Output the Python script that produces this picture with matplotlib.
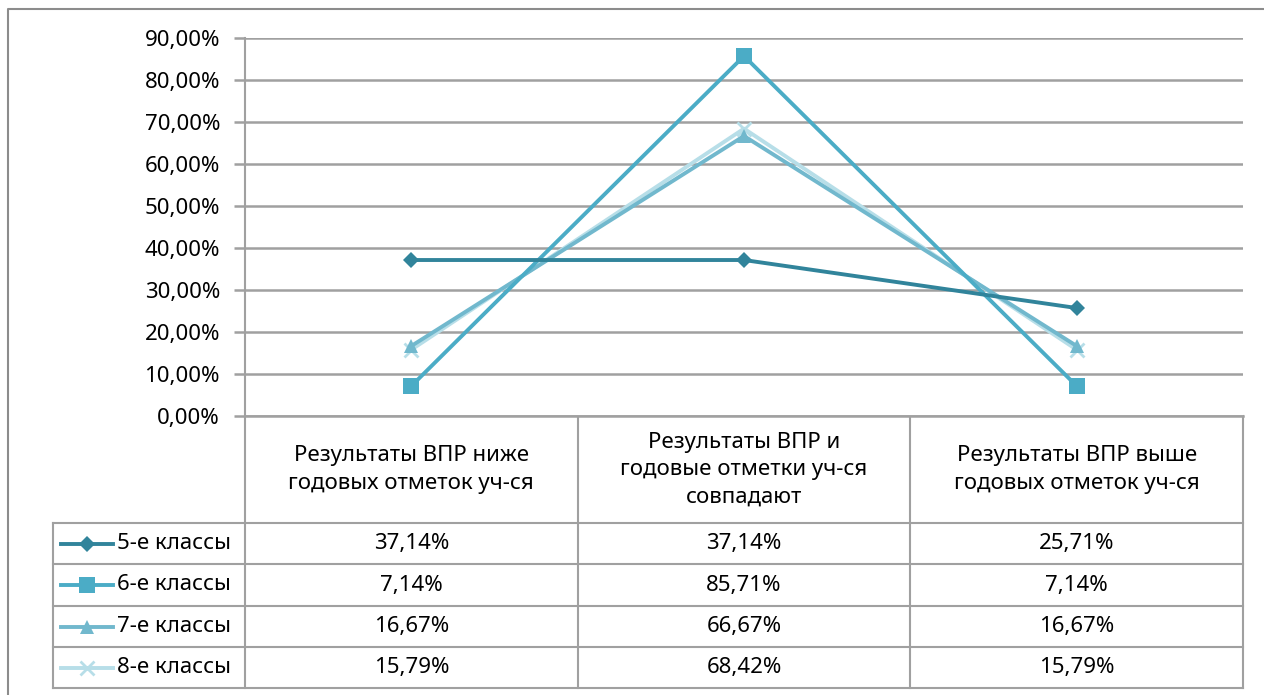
import matplotlib.pyplot as plt

# Data
CATEGORIES = ['Результаты ВПР ниже\nгодовых отметок уч-ся',
              'Результаты ВПР и\nгодовые отметки уч-ся\nсовпадают',
              'Результаты ВПР выше\nгодовых отметок уч-ся']
SERIES_NAMES = ['5-е классы', '6-е классы', '7-е классы', '8-е классы']
GRADE_5 = [37.14, 37.14, 25.71]
GRADE_6 = [7.14, 85.71, 7.14]
GRADE_7 = [16.67, 66.67, 16.67]
GRADE_8 = [15.79, 68.42, 15.79]
Y_TICKS = [0, 10, 20, 30, 40, 50, 60, 70, 80, 90]

COLORS = ['#31849B', '#4BACC6', '#71B8CD', '#B7DEE8']
MARKERS = ['D', 's', '^', 'x']
MSIZES = [8, 11, 10, 10]
GRID = '#A0A0A0'
FONT = 'Noto Sans'
FS = 16

W, H = 1264, 695
# pixel geometry
PL, PR, PT, PB = 245, 1243, 38, 416
ROWS = [523, 564, 606, 647, 688]
LEG_LEFT = 53


def pct(v):
    return f'{v:.2f}%'.replace('.', ',')


fig = plt.figure(figsize=(W / 100, H / 100), dpi=100)
ax = fig.add_axes([PL / W, 1 - PB / H, (PR - PL) / W, (PB - PT) / H])

series = [GRADE_5, GRADE_6, GRADE_7, GRADE_8]
x = [0, 1, 2]
for i, vals in enumerate(series):
    ax.plot(x, vals, color=COLORS[i], lw=2.8, marker=MARKERS[i], ms=MSIZES[i],
            mew=2 if MARKERS[i] == 'x' else 0, mec=COLORS[i], zorder=3 + (3 - i) * 0.1)

ax.set_xlim(-0.5, 2.5)
ax.set_ylim(0, 90)
ax.set_yticks(Y_TICKS)
ax.set_yticklabels([pct(t) for t in Y_TICKS], fontsize=FS, family=FONT)
ax.set_xticks([])
ax.grid(axis='y', color=GRID, lw=1.8)
ax.tick_params(axis='y', length=8, width=1.8, color=GRID, pad=10)
for s in ['top', 'right']:
    ax.spines[s].set_visible(False)
ax.spines['left'].set_color(GRID)
ax.spines['left'].set_linewidth(1.5)
ax.spines['bottom'].set_color(GRID)
ax.spines['bottom'].set_linewidth(1.8)
ax.set_axisbelow(True)

# overlay in pixel coordinates for the data table
ov = fig.add_axes([0, 0, 1, 1], zorder=-1)
ov.set_xlim(0, W)
ov.set_ylim(H, 0)
ov.axis('off')

# outer chart border
ov.plot([8, 8, W], [H, 9, 9], color='#8C8C8C', lw=1.5)

col_w = (PR - PL) / 3
col_x = [PL + col_w * k for k in range(4)]
for cx in col_x:
    ov.plot([cx, cx], [PB, ROWS[-1]], color=GRID, lw=1.5)
for ry in ROWS:
    ov.plot([LEG_LEFT, PR], [ry, ry], color=GRID, lw=1.5)
ov.plot([LEG_LEFT, LEG_LEFT], [ROWS[0], ROWS[-1]], color=GRID, lw=1.5)

for k, cat in enumerate(CATEGORIES):
    ov.text(col_x[k] + col_w / 2, (PB + ROWS[0]) / 2, cat, ha='center', va='center',
            fontsize=FS, family=FONT, linespacing=1.4)

for i, vals in enumerate(series):
    yc = (ROWS[i] + ROWS[i + 1]) / 2
    ov.plot([61, 113], [yc, yc], color=COLORS[i], lw=2.8)
    ov.plot([87], [yc], color=COLORS[i], marker=MARKERS[i], ms=MSIZES[i],
            mew=2 if MARKERS[i] == 'x' else 0, mec=COLORS[i])
    ov.text(117, yc, SERIES_NAMES[i], ha='left', va='center', fontsize=FS, family=FONT)
    for k, v in enumerate(vals):
        ov.text(col_x[k] + col_w / 2, yc, pct(v), ha='center', va='center',
                fontsize=FS, family=FONT)

fig.savefig('out.png', dpi=100)
